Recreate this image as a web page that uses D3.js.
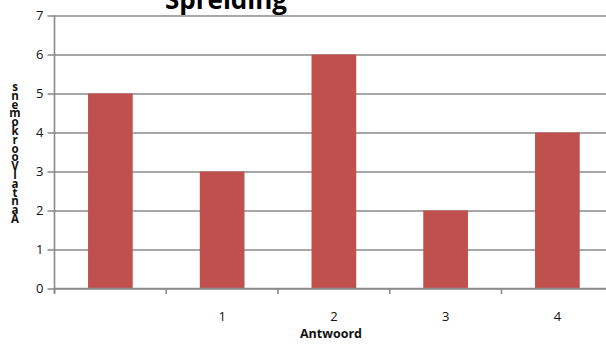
<!DOCTYPE html>
<html>
<head>
<meta charset="utf-8">
<script src="https://cdn.jsdelivr.net/npm/d3@7/dist/d3.min.js"></script>
<style>
  html, body { margin: 0; padding: 0; background: #fff; }
  svg { display: block; }
</style>
</head>
<body>
<svg id="chart" width="606" height="345"></svg>
<script>
// Answer categories and how often each occurs
const categories = ["", "1", "2", "3", "4"];
const counts = [5, 3, 6, 2, 4];
const yTicks = [0, 1, 2, 3, 4, 5, 6, 7];
const chartTitle = "Spreiding";
const xTitle = "Antwoord";
const yTitle = "Aantal Voorkomens";

const svg = d3.select("#chart");
const font = "'Open Sans', 'Liberation Sans', sans-serif";
const gridColor = "#8a8a8a";
const barColor = "#c0504d";

const plotLeft = 54.5, plotRight = 613.25, plotTop = 15.5, plotBottom = 288.5;

const x = d3.scaleBand()
  .domain(categories.map((d, i) => i))
  .range([plotLeft, plotRight])
  .paddingInner(0.6)
  .paddingOuter(0.3);

const y = d3.scaleLinear().domain([0, 7]).range([plotBottom, plotTop]);

// Horizontal gridlines with short ticks on the value axis
const yAxis = d3.axisLeft(y)
  .tickValues(yTicks)
  .tickSize(-(606 - plotLeft))
  .tickSizeOuter(0)
  .tickPadding(11)
  .tickFormat(d3.format("d"));

const gy = svg.append("g").attr("transform", `translate(${plotLeft},0)`).call(yAxis);
gy.select(".domain").remove();
gy.selectAll(".tick line")
  .attr("x1", -7)
  .attr("stroke", gridColor)
  .attr("stroke-width", 1.6);
gy.selectAll(".tick text")
  .attr("font-family", font)
  .attr("font-size", 13)
  .attr("fill", "#111");

// Bars
svg.append("g").selectAll("rect")
  .data(counts)
  .join("rect")
  .attr("x", (d, i) => x(i))
  .attr("width", x.bandwidth())
  .attr("y", d => y(d))
  .attr("height", d => y(0) - y(d))
  .attr("fill", barColor);

// Value axis line
svg.append("line")
  .attr("x1", plotLeft).attr("x2", plotLeft)
  .attr("y1", y(7)).attr("y2", y(0) + 5)
  .attr("stroke", gridColor).attr("stroke-width", 1.6);

// Category axis: baseline, ticks between categories, labels centered in bands
svg.append("line")
  .attr("x1", plotLeft).attr("x2", 606)
  .attr("y1", y(0)).attr("y2", y(0))
  .attr("stroke", gridColor).attr("stroke-width", 1.6);

const step = x.step();
const boundaries = d3.range(categories.length + 1).map(i => plotLeft + i * step);
svg.append("g").selectAll("line")
  .data(boundaries)
  .join("line")
  .attr("x1", d => d).attr("x2", d => d)
  .attr("y1", y(0)).attr("y2", y(0) + 5.5)
  .attr("stroke", gridColor).attr("stroke-width", 1.6);

svg.append("g").selectAll("text")
  .data(categories)
  .join("text")
  .attr("x", (d, i) => x(i) + x.bandwidth() / 2)
  .attr("y", 321)
  .attr("text-anchor", "middle")
  .attr("font-family", font)
  .attr("font-size", 13)
  .attr("fill", "#111")
  .text(d => d);

// Axis titles
svg.append("text")
  .attr("x", 331).attr("y", 338)
  .attr("text-anchor", "middle")
  .attr("font-family", font)
  .attr("font-size", 12.5)
  .attr("font-weight", "bold")
  .attr("fill", "#111")
  .text(xTitle);

// Value axis title: letters stacked bottom-to-top, each kept upright
const yChars = yTitle.replace(/ /g, "").split("").reverse();
svg.append("g").selectAll("text")
  .data(yChars)
  .join("text")
  .attr("x", 15)
  .attr("y", (d, i) => 91 + i * 8.8)
  .attr("text-anchor", "middle")
  .attr("font-family", font)
  .attr("font-size", 11.5)
  .attr("font-weight", "bold")
  .attr("fill", "#111")
  .text(d => d);

// Chart title
svg.append("text")
  .attr("x", 226).attr("y", 9)
  .attr("text-anchor", "middle")
  .attr("font-family", font)
  .attr("font-size", 26)
  .attr("font-weight", "bold")
  .attr("fill", "#000")
  .text(chartTitle);
</script>
</body>
</html>
